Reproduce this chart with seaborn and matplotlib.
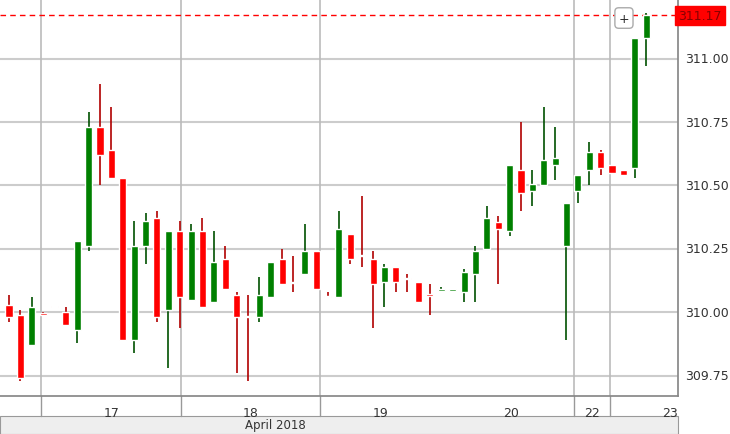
import matplotlib
matplotlib.use("Agg")
import matplotlib.pyplot as plt
import seaborn as sns
import numpy as np

sns.set_theme(style="white")
plt.rcParams['font.family'] = ['DejaVu Sans']

opens  = [310.03,309.99,309.87,309.995,310.025,310.00,309.93,310.26,310.73,310.64,310.53,309.89,310.26,310.37,310.01,310.32,310.05,310.32,310.04,310.21,
          310.07,309.985,309.98,310.06,310.21,310.12,310.15,310.24,310.065,310.06,310.31,310.225,310.21,310.12,310.18,310.135,310.12,310.07,310.085,310.085,
          310.08,310.15,310.25,310.355,310.32,310.56,310.48,310.50,310.58,310.26,310.48,310.56,310.63,310.58,310.56,310.57,311.08]
highs  = [310.07,310.01,310.06,310.00,310.025,310.02,310.28,310.79,310.90,310.81,310.53,310.36,310.39,310.40,310.32,310.36,310.35,310.37,310.32,310.26,
          310.08,310.07,310.14,310.20,310.25,310.22,310.35,310.24,310.08,310.40,310.31,310.46,310.24,310.19,310.18,310.15,310.12,310.11,310.10,310.09,
          310.17,310.26,310.42,310.38,310.58,310.75,310.56,310.81,310.73,310.43,310.54,310.67,310.64,310.58,310.56,311.08,311.18]
lows   = [309.96,309.73,309.87,309.99,310.02,309.95,309.88,310.24,310.50,310.53,309.89,309.84,310.19,309.96,309.78,309.94,310.05,310.02,310.04,310.09,
          309.76,309.73,309.96,310.06,310.11,310.08,310.15,310.09,310.06,310.06,310.19,310.18,309.94,310.02,310.08,310.08,310.04,309.99,310.08,310.08,
          310.04,310.04,310.25,310.11,310.30,310.40,310.42,310.50,310.52,309.89,310.43,310.50,310.54,310.55,310.54,310.53,310.97]
closes = [309.98,309.74,310.02,309.99,310.02,309.95,310.28,310.73,310.62,310.53,309.89,310.26,310.36,309.98,310.32,310.06,310.32,310.02,310.20,310.09,
          309.98,309.98,310.07,310.20,310.11,310.115,310.24,310.09,310.06,310.33,310.21,310.22,310.11,310.18,310.12,310.13,310.04,310.065,310.09,310.09,
          310.16,310.24,310.37,310.33,310.58,310.47,310.505,310.60,310.61,310.43,310.54,310.63,310.57,310.55,310.54,311.08,311.17]
day_labels = ["17", "18", "19", "20", "22", "23"]
month_label = "April 2018"
last_price = 311.17
y_ticks = [309.75, 310.00, 310.25, 310.50, 310.75, 311.00]

GREEN = "#008000"; RED = "#ff0000"
fig = plt.figure(figsize=(7.3, 4.35), dpi=100)
fig.patches.append(plt.Rectangle((0, 0), 678/730, 18/435, transform=fig.transFigure,
                                 fc="#eeeeee", ec="#999999", lw=0.8, zorder=-1))
ax = fig.add_axes([0, 38/435, 678/730, 397/435])
ax.patch.set_alpha(0)
x = np.arange(len(opens))
o = np.array(opens); c = np.array(closes)
up = c >= o
cols = np.where(up, GREEN, RED)
ax.vlines(x, lows, highs, colors=["#005000" if u else "#b00000" for u in up], lw=1.2, zorder=3)
bottoms = np.minimum(o, c)
heights = np.maximum(np.abs(c - o), 0.006)
ax.bar(x, heights, bottom=bottoms, width=0.62, color=cols, zorder=4)

ax.set_xlim(-0.79, 58.8)
ax.set_ylim(309.67, 311.235)
for t in y_ticks:
    ax.axhline(t, color="#cccccc", lw=1.5, zorder=1)
for s in [2.8, 15.1, 27.3, 49.7, 52.8]:
    ax.axvline(s, color="#bbbbbb", lw=1.2, zorder=1)
ax.axhline(last_price, color=RED, lw=1, ls=(0, (4, 3)), zorder=2)
ax.set_xticks([]); ax.set_yticks([])
for sp in ax.spines.values():
    sp.set_visible(False)
ax.spines['right'].set_visible(True); ax.spines['right'].set_color("#888888")
ax.spines['bottom'].set_visible(True); ax.spines['bottom'].set_color("#888888")

for t in y_ticks:
    ax.text(1.01, (t - 309.67) / (311.235 - 309.67), f"{t:.2f}", transform=ax.transAxes,
            va="center", ha="left", fontsize=9, color="#333333")
ax.text(1.0, (last_price - 309.67) / (311.235 - 309.67), f"{last_price:.2f}", transform=ax.transAxes,
        va="center", ha="left", fontsize=9, color="#880000",
        bbox=dict(boxstyle="square,pad=0.25", fc=RED, ec=RED), clip_on=False)
ax.text(54.05, 311.16, "+", ha="center", va="center", fontsize=9,
        bbox=dict(boxstyle="round,pad=0.3", fc="white", ec="#aaaaaa"))

for pos, lab in zip([9.0, 21.2, 32.7, 44.1, 51.2, 58.1], day_labels):
    ax.text(pos, -0.025, lab, transform=ax.get_xaxis_transform(), ha="center", va="top", fontsize=9, color="#333333")
for s in [2.8, 15.1, 27.3, 49.7, 52.8]:
    ax.plot([s, s], [0, -0.05], transform=ax.get_xaxis_transform(), color="#999999", lw=1, clip_on=False)
fig.text(0.377, 0.5 * 18/435, month_label, ha="center", va="center", fontsize=8.5, color="#333333", zorder=5)
fig.savefig("out.png", dpi=100)
